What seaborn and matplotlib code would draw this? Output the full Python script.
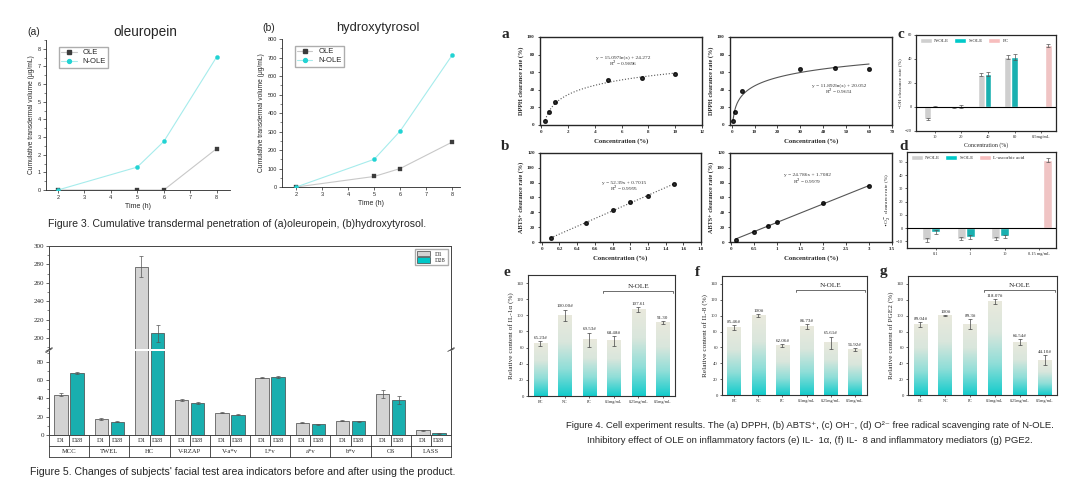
import numpy as np
import pandas as pd
import seaborn as sns
import matplotlib.pyplot as plt
from matplotlib.colors import LinearSegmentedColormap
from matplotlib.lines import Line2D
from matplotlib.patches import Patch
from matplotlib.ticker import MultipleLocator
from matplotlib.transforms import blended_transform_factory

sns.set_style('ticks')
plt.rcParams['font.family'] = ['Liberation Sans', 'DejaVu Sans']
SERIF = ['Liberation Serif', 'DejaVu Serif']

# Figure 3 - cumulative transdermal penetration
time_h = [2, 5, 6, 8]
oleuropein_ole = [0, 0, 0, 2.35]
oleuropein_nole = [0, 1.3, 2.75, 7.55]
hydroxy_ole = [0, 57, 100, 243]
hydroxy_nole = [0, 150, 303, 713]

# Figure 5 - facial test area indicators
skin_items = ['MCC', 'TWEL', 'HC', 'V-RZAP', 'V-a*v', 'L*v', 'a*v', 'b*v', 'OS', 'LASS']
d1_vals = [44, 17.3, 277.7, 38.6, 24.5, 62.5, 13.3, 15.8, 45, 5]
d28_vals = [67.5, 14.3, 205, 35, 22.3, 63.5, 11.8, 14.8, 38.2, 2]
d1_err = [1.5, 0.8, 11.5, 1, 0.7, 0.6, 0.5, 0.5, 4.5, 0.5]
d28_err = [1, 0.6, 9.5, 1, 0.8, 0.6, 0.5, 0.5, 4.2, 0.4]

# Figure 4 a/b - DPPH and ABTS clearance
dpph1_conc = [0.3, 0.6, 1, 5, 7.5, 10]
dpph1_rate = [5, 14.5, 26.5, 51, 53.5, 57.5]
dpph2_conc = [0.6, 1.5, 4.5, 30, 45, 60]
dpph2_rate = [4, 15, 39, 64, 65, 64]
abts1_conc = [0.1, 0.5, 0.8, 1.0, 1.2, 1.5]
abts1_rate = [5, 26, 43, 53.5, 62.5, 78]
abts2_conc = [0.1, 0.5, 0.8, 1.0, 2.0, 3.0]
abts2_rate = [3, 14, 22, 27.5, 52.5, 75]

# Figure 4 c/d - OH and O2 clearance
oh_conc = ['10', '20', '40', '80', '0.5mg/mL']
oh_nole = [-10, -0.5, 27, 41.7]
oh_nole_err = [1, 0.5, 1, 1.5]
oh_sole = [0.3, 0.5, 27.5, 41.4]
oh_sole_err = [0.5, 1.2, 1.5, 2.5]
oh_pc = [51.4]
oh_pc_err = [1.5]

o2_conc = ['0.1', '1', '10', '0.15 mg/mL']
o2_nole = [-9, -8, -8]
o2_nole_err = [1.5, 1, 1]
o2_sole = [-3, -7, -6.3]
o2_sole_err = [1.5, 1.5, 1]
o2_vc = [51.3]
o2_vc_err = [1.5]

# Figure 4 e/f/g - inflammatory factors
cell_groups = ['BC', 'NC', 'PC', '0.1mg/mL', '0.25mg/mL', '0.5mg/mL']
il1a = [65.23, 100.0, 69.53, 68.48, 107.61, 91.30]
il1a_err = [3, 7, 9, 6, 3, 2]
il1a_lbl = ['65.23#', '100.00#', '69.53#', '68.48#', '107.61', '91.30']
il8 = [85.46, 100, 62.06, 86.73, 65.61, 56.92]
il8_err = [3, 2, 2, 3, 8, 2]
il8_lbl = ['85.46#', '100#', '62.06#', '86.73#', '65.61#', '56.92#']
pge2 = [89.04, 100, 89.3, 118.07, 66.54, 44.10]
pge2_err = [3, 1, 6, 3, 4, 6]
pge2_lbl = ['89.04#', '100#', '89.3#', '118.07#', '66.54#', '44.10#']

W, H = 1080, 490
fig = plt.figure(figsize=(W / 100, H / 100), dpi=100)


def box(l, t, r, b):
    return fig.add_axes([l / W, 1 - b / H, (r - l) / W, (b - t) / H])


def ftext(x, y, s, **kw):
    fig.text(x / W, 1 - y / H, s, **kw)


serif_axes = []

# ---------------- Figure 3
def transdermal(ax, ole, nole, ylim, ystep):
    lc = {'OLE': '#c8c8c8', 'N-OLE': '#a6ecec'}
    mc = {'OLE': '#3c3c3c', 'N-OLE': '#22d3d3'}
    mk = {'OLE': 's', 'N-OLE': 'o'}
    for name, vals in [('OLE', ole), ('N-OLE', nole)]:
        sns.lineplot(x=time_h, y=vals, color=lc[name], lw=0.8, ax=ax)
        sns.scatterplot(x=time_h, y=vals, color=mc[name], marker=mk[name], s=9,
                        edgecolor=mc[name], zorder=3, ax=ax)
    handles = [Line2D([0], [0], color=lc[n], lw=0.8, marker=mk[n], ms=2.8,
                      markerfacecolor=mc[n], markeredgecolor=mc[n]) for n in ['OLE', 'N-OLE']]
    ax.legend(handles, ['OLE', 'N-OLE'], loc='upper left', fontsize=5.5, frameon=True,
              fancybox=False, edgecolor='#999999', borderpad=0.3, handlelength=2,
              labelspacing=0.2, bbox_to_anchor=(0.05, 0.98))
    ax.set_ylim(*ylim)
    ax.set_xticks([2, 3, 4, 5, 6, 7, 8])
    ax.yaxis.set_major_locator(MultipleLocator(ystep))
    ax.yaxis.set_minor_locator(MultipleLocator(ystep / 2))
    ax.set_xlabel('Time (h)', fontsize=5, labelpad=2)
    ax.set_ylabel('Cumulative transdermal volume (\u03bcg/mL)', fontsize=4.8, labelpad=2)
    ax.tick_params(labelsize=4, length=2, width=0.5, pad=1.5)
    ax.tick_params(which='minor', length=1.2, width=0.4)
    sns.despine(ax=ax)
    for s in ax.spines.values():
        s.set_linewidth(0.6)


ax3a = box(46, 40, 230, 190)
transdermal(ax3a, oleuropein_ole, oleuropein_nole, (0, 8.5), 1)
ax3a.set_xlim(1.55, 8.5)
ax3b = box(282, 39, 460, 187)
transdermal(ax3b, hydroxy_ole, hydroxy_nole, (0, 800), 100)
ax3b.set_xlim(1.45, 8.3)

ftext(27, 32, '(a)', fontsize=7.5, va='center')
ftext(145, 32, 'oleuropein', fontsize=9.8, va='center', ha='center')
ftext(262, 28, '(b)', fontsize=7.5, va='center')
ftext(378, 28, 'hydroxytyrosol', fontsize=9.3, va='center', ha='center')
ftext(48, 224, 'Figure 3. Cumulative transdermal penetration of (a)oleuropein, (b)hydroxytyrosol.',
      fontsize=7.6, va='center')

# ---------------- Figure 5 (broken axis)
skin = pd.DataFrame({'item': skin_items * 2,
                     'day': ['D1'] * len(skin_items) + ['D28'] * len(skin_items),
                     'value': d1_vals + d28_vals})
ax5h = box(49, 246, 451, 349)
ax5l = box(49, 351, 451, 435)
for ax in (ax5h, ax5l):
    sns.barplot(data=skin, x='item', y='value', hue='day', palette=['#d3d3d3', '#00c8c8'],
                width=0.8, gap=0.16, errorbar=None, legend=False, edgecolor='#444444',
                linewidth=0.5, ax=ax)
    for cont, errs in zip(ax.containers, [d1_err, d28_err]):
        for bar, e in zip(cont, errs):
            ax.errorbar(bar.get_x() + bar.get_width() / 2, bar.get_height(), yerr=e,
                        color='#555555', lw=0.5, capsize=1.5, capthick=0.5)
    ax.set_xlim(-0.5, len(skin_items) - 0.5)
    ax.set_xlabel('')
    ax.set_ylabel('')
    ax.tick_params(axis='x', bottom=False, labelbottom=False)
    ax.tick_params(axis='y', labelsize=5, length=2.2, width=0.5, pad=1.5)
    ax.tick_params(axis='y', which='minor', length=1.2, width=0.4)
    for s in ax.spines.values():
        s.set_linewidth(0.7)
        s.set_color('#444444')
    serif_axes.append(ax)

ax5h.set_ylim(188, 300)
ax5h.yaxis.set_major_locator(MultipleLocator(20))
ax5h.yaxis.set_minor_locator(MultipleLocator(10))
ax5h.spines['bottom'].set_visible(False)
ax5l.set_ylim(0, 92)
ax5l.set_yticks([0, 20, 40, 60, 80])
ax5l.yaxis.set_minor_locator(MultipleLocator(10))
ax5l.spines['top'].set_visible(False)

brk = dict(color='#444444', lw=0.6, clip_on=False)
for xx in (0, 1):
    ax5h.plot([xx - 0.008, xx + 0.008], [-0.035, 0.005], transform=ax5h.transAxes, **brk)
    ax5l.plot([xx - 0.008, xx + 0.008], [0.995, 1.04], transform=ax5l.transAxes, **brk)

ax5h.legend([Patch(facecolor='#d3d3d3', edgecolor='#444444', lw=0.5),
             Patch(facecolor='#00c8c8', edgecolor='#444444', lw=0.5)], ['D1', 'D28'],
            loc='upper right', frameon=True, fancybox=False, edgecolor='#999999',
            borderpad=0.3, handlelength=2.2, handleheight=0.9, labelspacing=0.1,
            prop={'family': SERIF, 'size': 4.5})

tr = blended_transform_factory(ax5l.transData, ax5l.transAxes)
row = 11 / 84
n5 = len(skin_items)
line_kw = dict(transform=tr, color='#333333', lw=0.6, clip_on=False)
for cont, lab in zip(ax5l.containers, ['D1', 'D28']):
    for bar in cont:
        ax5l.text(bar.get_x() + bar.get_width() / 2, -row / 2, lab, transform=tr,
                  ha='center', va='center', fontsize=4.8, family=SERIF)
for i, name in enumerate(skin_items):
    ax5l.text(i, -1.5 * row, name, transform=tr, ha='center', va='center',
              fontsize=4.8, family=SERIF)
    ax5l.plot([i - 0.5, i - 0.5], [0, -2 * row], **line_kw)
    ax5l.plot([i, i], [0, -row], **line_kw)
ax5l.plot([n5 - 0.5, n5 - 0.5], [0, -2 * row], **line_kw)
ax5l.plot([-0.5, n5 - 0.5], [-row, -row], **line_kw)
ax5l.plot([-0.5, n5 - 0.5], [-2 * row, -2 * row], **line_kw)

ftext(30, 472, "Figure 5. Changes of subjects' facial test area indicators before and after using the product.",
      fontsize=7.6, va='center')

# ---------------- Figure 4 a/b
def scavenge_fit(ax, conc, rate, logx, ls, xlim, xticks, ylim, yticks, ylabel, eq, r2, eq_xy):
    sns.regplot(x=conc, y=rate, logx=logx, ci=None, ax=ax, color='black',
                scatter_kws={'s': 7, 'zorder': 3, 'color': 'black'},
                line_kws={'color': '#555555', 'lw': 0.8, 'ls': ls})
    ax.set_xlim(*xlim)
    ax.set_ylim(*ylim)
    ax.set_xticks(xticks)
    ax.set_yticks(yticks)
    ax.set_xlabel('Concentration (%)', fontsize=4.8, fontweight='bold', family=SERIF, labelpad=3)
    ax.set_ylabel(ylabel, fontsize=4.5, fontweight='bold', family=SERIF, labelpad=2)
    ax.text(eq_xy[0], eq_xy[1], eq, ha='center', va='center', fontsize=3.9, family=SERIF, color='#333333')
    ax.text(eq_xy[0], eq_xy[2], r2, ha='center', va='center', fontsize=3.9, family=SERIF, color='#333333')
    ax.tick_params(labelsize=3.6, length=1.8, width=0.6, pad=2, direction='out')
    for s in ax.spines.values():
        s.set_linewidth(1.0)
    serif_axes.append(ax)


ax4a1 = box(540, 37, 702, 125)
scavenge_fit(ax4a1, dpph1_conc, dpph1_rate, True, ':', (-0.1, 12), [0, 2, 4, 6, 8, 10, 12],
             (0, 100), [0, 20, 40, 60, 80, 100], 'DPPH clearance rate (%)',
             'y = 15.097ln(x) + 24.272', 'R$^2$ = 0.9896', (6.1, 76, 70))
ax4a2 = box(730, 37, 892, 125)
scavenge_fit(ax4a2, dpph2_conc, dpph2_rate, True, '-', (-0.7, 70), [0, 10, 20, 30, 40, 50, 60, 70],
             (0, 100), [0, 20, 40, 60, 80, 100], 'DPPH clearance rate (%)',
             'y = 11.892ln(x) + 20.052', 'R$^2$ = 0.9651', (47, 44, 38))
ax4b1 = box(540, 153, 701, 242)
scavenge_fit(ax4b1, abts1_conc, abts1_rate, False, ':', (-0.02, 1.8),
             [0, 0.2, 0.4, 0.6, 0.8, 1, 1.2, 1.4, 1.6, 1.8],
             (0, 120), [0, 20, 40, 60, 80, 100, 120], 'ABTS+ clearance rate (%)',
             'y = 52.39x + 0.7015', 'R$^2$ = 0.9995', (0.93, 79, 72))
ax4b1.set_xticklabels(['0', '0.2', '0.4', '0.6', '0.8', '1', '1.2', '1.4', '1.6', '1.8'])
ax4b2 = box(730, 153, 892, 242)
scavenge_fit(ax4b2, abts2_conc, abts2_rate, False, '-', (-0.03, 3.5),
             [0, 0.5, 1, 1.5, 2, 2.5, 3, 3.5],
             (0, 120), [0, 20, 40, 60, 80, 100, 120], 'ABTS+ clearance rate (%)',
             'y = 24.786x + 1.7082', 'R$^2$ = 0.9979', (1.66, 91, 81.5))
ax4b2.set_xticklabels(['0', '0.5', '1', '1.5', '2', '2.5', '3', '3.5'])

# ---------------- Figure 4 c/d
def scavenge_bars(ax, conc, nole, nole_e, sole, sole_e, ref, ref_e, ref_name,
                  ylim, yticks, ylabel, xlim):
    n = len(nole)
    df = pd.DataFrame({'conc': conc[:n] + conc[:n] + conc[n:],
                       'grp': ['N-OLE'] * n + ['S-OLE'] * n + [ref_name] * len(ref),
                       'val': nole + sole + ref,
                       'err': nole_e + sole_e + ref_e})
    hue_order = ['N-OLE', 'S-OLE', ref_name]
    colors = ['#cfcfcf', '#00c9c9', '#f7bdbd']
    sns.barplot(data=df, x='conc', y='val', hue='grp', order=conc, hue_order=hue_order,
                palette=colors, width=0.78, errorbar=None, legend=False, ax=ax)
    for cont, (g, sub) in zip(ax.containers, df.groupby('grp', sort=False)):
        for bar, e in zip(cont, sub['err']):
            ax.errorbar(bar.get_x() + bar.get_width() / 2, bar.get_y() + bar.get_height(),
                        yerr=e, color='#555555', lw=0.5, capsize=1.2, capthick=0.5)
    ax.axhline(0, color='black', lw=0.8, zorder=4)
    ax.set_ylim(*ylim)
    ax.set_yticks(yticks)
    ax.set_xlim(*xlim)
    ax.set_xlabel('')
    ax.set_ylabel(ylabel, fontsize=3.9, family=SERIF, labelpad=2)
    ax.tick_params(labelsize=3.2, length=1.5, width=0.5, pad=1.5)
    ax.legend([Patch(facecolor=c) for c in colors], hue_order, loc='upper left', ncol=3,
              frameon=False, prop={'family': SERIF, 'size': 3.6}, handlelength=2.4,
              handleheight=0.9, columnspacing=1.0, handletextpad=0.5, borderaxespad=0.3)
    for s in ax.spines.values():
        s.set_linewidth(0.9)
    serif_axes.append(ax)


ax4c = box(916, 35, 1056, 131)
scavenge_bars(ax4c, oh_conc, oh_nole, oh_nole_err, oh_sole, oh_sole_err, oh_pc, oh_pc_err, 'PC',
              (-20, 60), [-20, 0, 20, 40, 60], '\u2022OH clearance rate (%)', (-0.7, 4.55))
ax4c.set_xlabel('Concentration (%)', fontsize=4.2, family=SERIF, labelpad=2)
ax4d = box(907, 152, 1056, 248)
scavenge_bars(ax4d, o2_conc, o2_nole, o2_nole_err, o2_sole, o2_sole_err, o2_vc, o2_vc_err,
              'L-ascorbic acid', (-15, 57.5), [-10, 0, 10, 20, 30, 40, 50],
              '\u2022O$_2^-$ clearance rate (%)', (-0.84, 3.5))

# ---------------- Figure 4 e/f/g
bar_cmap = LinearSegmentedColormap.from_list('cellbar', ['#14cccc', '#8fded8', '#d9e6dc', '#e9e9dd'])
grad = np.linspace(0, 1, 200).reshape(-1, 1)


def gradient_bars(ax, vals, errs, labels, ylabel, bracket_y):
    sns.barplot(x=cell_groups, y=vals, ax=ax, color='white', width=0.55, errorbar=None)
    for bar, e, lab in zip(list(ax.patches), errs, labels):
        x0, w, h = bar.get_x(), bar.get_width(), bar.get_height()
        ax.imshow(grad, extent=[x0, x0 + w, 0, h], origin='lower', aspect='auto',
                  cmap=bar_cmap, zorder=2)
        bar.set_visible(False)
        cx = x0 + w / 2
        ax.errorbar(cx, h, yerr=e, color='#444444', lw=0.5, capsize=1.3, capthick=0.5, zorder=3)
        ax.text(cx, h + e + 1.5, lab, ha='center', va='bottom', fontsize=3.6, family=SERIF)
    ax.plot([2.55, 2.55, 5.42, 5.42], [bracket_y - 2.5, bracket_y, bracket_y, bracket_y - 2.5],
            color='#333333', lw=0.5)
    ax.text(4, bracket_y + 3, 'N-OLE', ha='center', va='bottom', fontsize=5.2, family=SERIF)
    ax.set_xlim(-0.5, 5.5)
    ax.set_ylim(0, 150)
    ax.set_yticks([0, 20, 40, 60, 80, 100, 120, 140])
    ax.set_ylabel(ylabel, fontsize=5.2, family=SERIF, labelpad=2)
    ax.tick_params(axis='y', labelsize=3.3, length=1.5, width=0.5, pad=1.5)
    ax.tick_params(axis='x', labelsize=3.0, length=1.5, width=0.5, pad=1.5)
    for s in ax.spines.values():
        s.set_linewidth(0.8)
        s.set_color('#333333')
    serif_axes.append(ax)


ax4e = box(528, 275, 675, 396)
gradient_bars(ax4e, il1a, il1a_err, il1a_lbl, 'Relative content of IL-1\u03b1 (%)', 130)
ax4f = box(722, 276, 867, 395)
gradient_bars(ax4f, il8, il8_err, il8_lbl, 'Relative content of IL-8 (%)', 132)
ax4g = box(908, 276, 1057, 395)
gradient_bars(ax4g, pge2, pge2_err, pge2_lbl, 'Relative content of PGE2 (%)', 132)

for lab, x, y in [('a', 505, 34), ('b', 505, 146), ('c', 901, 34), ('d', 904, 146),
                  ('e', 507, 272), ('f', 697, 273), ('g', 883, 272)]:
    ftext(x, y, lab, fontsize=11, fontweight='bold', family=SERIF, ha='center', va='center')

ftext(810, 425, 'Figure 4. Cell experiment results. The (a) DPPH, (b) ABTS\u207a, (c) OH\u207b, '
      '(d) O\u00b2\u207b free radical scavenging rate of N-OLE.', fontsize=6.8, ha='center', va='center')
ftext(810, 440, 'Inhibitory effect of OLE on inflammatory factors (e) IL-  1\u03b1, (f) IL-  8 and '
      'inflammatory mediators (g) PGE2.', fontsize=6.8, ha='center', va='center')

for ax in serif_axes:
    for t in ax.get_xticklabels() + ax.get_yticklabels():
        t.set_family(SERIF)
for ax in (ax4a1, ax4a2, ax4b1, ax4b2):
    for t in ax.get_xticklabels() + ax.get_yticklabels():
        t.set_fontweight('bold')

fig.savefig('out.png', dpi=100)
